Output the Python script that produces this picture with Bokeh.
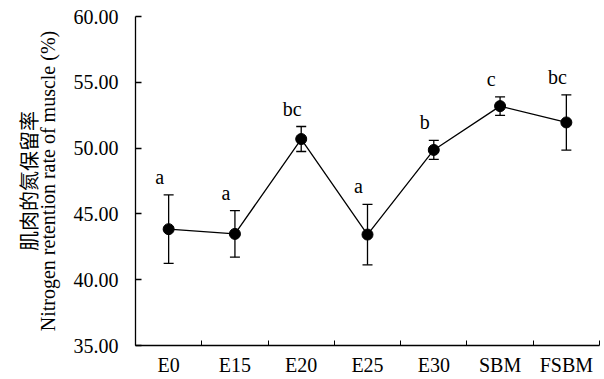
from bokeh.plotting import figure
from bokeh.models import (ColumnDataSource, Whisker, TeeHead, LinearAxis, FixedTicker, Range1d)
from bokeh.core.properties import value
from bokeh.embed import file_html
from bokeh.resources import INLINE

categories = ["E0", "E15", "E20", "E25", "E30", "SBM", "FSBM"]
means = [43.84, 43.48, 50.69, 43.43, 49.86, 53.19, 51.95]
sds = [2.60, 1.77, 0.95, 2.30, 0.72, 0.70, 2.10]
letters = ["a", "a", "bc", "a", "b", "c", "bc"]
y_ticks = [35, 40, 45, 50, 55, 60]

xs = list(range(len(categories)))
src = ColumnDataSource(dict(
    x=xs, y=means,
    upper=[m + s for m, s in zip(means, sds)],
    lower=[m - s for m, s in zip(means, sds)],
    lab=letters,
))

FONT = "'Liberation Serif'"

p = figure(width=604, height=379, output_backend="svg", toolbar_location=None,
           x_range=Range1d(-0.5, len(categories) - 0.5), y_range=Range1d(35, 60),
           x_axis_type=None, y_axis_type=None,
           min_border_top=16, min_border_bottom=34, min_border_right=5, min_border_left=135)
p.outline_line_color = None
p.background_fill_color = "white"
p.border_fill_color = "white"

# x axis: labels at centers, ticks at boundaries (minor ticks)
xaxis = LinearAxis(ticker=FixedTicker(ticks=xs,
                                      minor_ticks=[i - 0.5 for i in range(len(categories) + 1)]))
xaxis.major_label_overrides = {i: c for i, c in enumerate(categories)}
xaxis.major_tick_line_color = None
xaxis.major_tick_in = 0
xaxis.major_tick_out = 0
xaxis.minor_tick_in = 5
xaxis.minor_tick_out = 0
xaxis.minor_tick_line_color = "black"
xaxis.axis_line_color = "black"
xaxis.axis_line_width = 1.3
xaxis.major_label_text_font = FONT
xaxis.major_label_text_font_size = "20px"
xaxis.major_label_text_color = "black"
xaxis.major_label_standoff = 8
p.add_layout(xaxis, "below")

# y axis
yaxis = LinearAxis(ticker=FixedTicker(ticks=y_ticks))
yaxis.major_label_overrides = {t: f"{t:.2f}" for t in y_ticks}
yaxis.major_tick_in = 6
yaxis.major_tick_out = 0
yaxis.minor_tick_line_color = None
yaxis.axis_line_color = "black"
yaxis.axis_line_width = 1.3
yaxis.major_tick_line_width = 1.3
yaxis.major_label_text_font = FONT
yaxis.major_label_text_font_size = "20px"
yaxis.major_label_text_color = "black"
yaxis.major_label_standoff = 17
yaxis.axis_label = "Nitrogen retention rate of muscle (%)"
yaxis.axis_label_text_font = FONT
yaxis.axis_label_text_font_size = "20px"
yaxis.axis_label_text_font_style = "normal"
yaxis.axis_label_text_color = "black"
yaxis.axis_label_standoff = 12
p.add_layout(yaxis, "left")

yaxis2 = LinearAxis(ticker=FixedTicker(ticks=[]))
yaxis2.axis_line_color = None
yaxis2.major_tick_line_color = None
yaxis2.minor_tick_line_color = None
yaxis2.major_tick_in = 0
yaxis2.major_tick_out = 0
yaxis2.minor_tick_in = 0
yaxis2.minor_tick_out = 0
yaxis2.major_label_text_font_size = "0px"
yaxis2.major_label_standoff = 0
yaxis2.axis_label = "肌肉的氮保留率"
yaxis2.axis_label_text_font = "'Noto Sans CJK SC'"
yaxis2.axis_label_text_font_size = "20px"
yaxis2.axis_label_text_font_style = "normal"
yaxis2.axis_label_text_color = "black"
yaxis2.axis_label_standoff = -9
p.add_layout(yaxis2, "left")

p.xgrid.visible = False
p.ygrid.visible = False

p.line("x", "y", source=src, line_color="black", line_width=1.3)

whisker = Whisker(base="x", upper="upper", lower="lower", source=src,
                  line_color="black", line_width=1.3,
                  upper_head=TeeHead(size=10, line_color="black", line_width=1.3),
                  lower_head=TeeHead(size=10, line_color="black", line_width=1.3))
p.add_layout(whisker)

p.scatter("x", "y", source=src, size=11, fill_color="black", line_color="black")

p.text(x="x", y="upper", text="lab", source=src, x_offset=-9, y_offset=-18,
       text_font=value(FONT), text_font_size="20px", text_color="black",
       text_align="center", text_baseline="alphabetic")

open("out.html", "w").write(file_html(p, INLINE))
